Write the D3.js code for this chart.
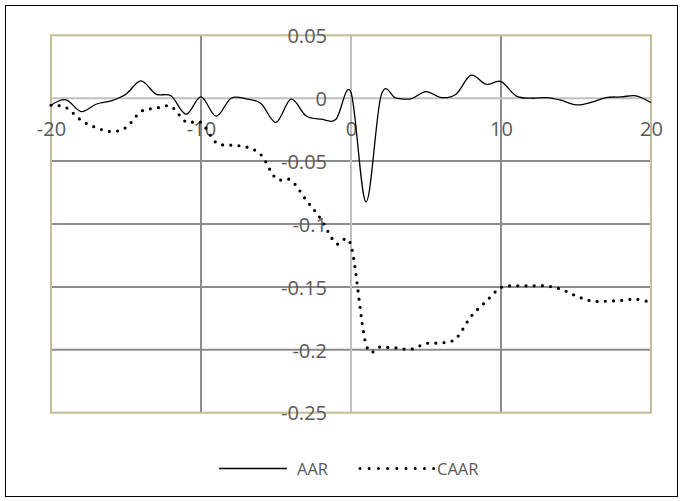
<!DOCTYPE html>
<html><head><meta charset="utf-8">
<script src="https://cdn.jsdelivr.net/npm/d3@7"></script>
<style>body{margin:0;background:#fff}svg{display:block}</style>
</head><body>
<svg id="c" width="682" height="501"></svg>
<script>
const days = [-20,-19,-18,-17,-16,-15,-14,-13,-12,-11,-10,-9,-8,-7,-6,-5,-4,-3,-2,-1,0,1,2,3,4,5,6,7,8,9,10,11,12,13,14,15,16,17,18,19,20];
const aar = [-0.0056,-0.0013,-0.0106,-0.0048,-0.0021,0.0032,0.0138,0.0032,0.0019,-0.0127,0.0010,
  -0.0143,0.0000,-0.0005,-0.0042,-0.0193,-0.0008,-0.0140,-0.0167,-0.0167,0.0045,
  -0.0824,0.0019,0.0000,-0.0005,0.0053,0.0005,0.0032,0.0183,0.0111,0.0132,
  0.0019,0.0000,0.0005,-0.0016,-0.0053,-0.0034,0.0005,0.0010,0.0019,-0.0034];
const caar = [-0.0056,-0.0074,-0.0175,-0.0233,-0.0265,-0.0233,-0.0106,-0.0080,-0.0066,-0.0188,-0.0193,
  -0.0352,-0.0374,-0.0387,-0.0450,-0.0638,-0.0652,-0.0808,-0.0962,-0.1155,-0.1170,
  -0.1955,-0.1977,-0.1985,-0.1995,-0.1950,-0.1945,-0.1910,-0.1735,-0.1616,-0.1505,
  -0.1492,-0.1492,-0.1492,-0.1518,-0.1571,-0.1611,-0.1614,-0.1608,-0.1598,-0.1624];
const xTicks = [-20,-10,0,10,20];
const xTickLabels = ["-20","-10","0","10","20"];
const yTicks = [0.05,0,-0.05,-0.1,-0.15,-0.2,-0.25];
const yTickLabels = ["0.05","0","-0.05","-0.1","-0.15","-0.2","-0.25"];
const seriesNames = ["AAR","CAAR"];

const svg = d3.select("#c");
const x = d3.scaleLinear().domain([-20,20]).range([51,651]);
const y = d3.scaleLinear().domain([-0.25,0.05]).range([412.7,35.3]);

// outer border
svg.append("rect").attr("x",5.5).attr("y",5.5).attr("width",672).attr("height",491)
  .attr("fill","none").attr("stroke","#000").attr("stroke-width",1);

// gridlines
const gridCol = "#8c8c8c", axisCol = "#c0c0c0";
svg.append("g").selectAll("line").data(yTicks.filter(v=>v!==0 && v!==0.05 && v!==-0.25)).join("line")
  .attr("x1",x(-20)).attr("x2",x(20)).attr("y1",d=>y(d)).attr("y2",d=>y(d))
  .attr("stroke",gridCol).attr("stroke-width",2);
svg.append("g").selectAll("line").data(xTicks.filter(v=>v!==0 && Math.abs(v)!==20)).join("line")
  .attr("y1",y(0.05)).attr("y2",y(-0.25)).attr("x1",d=>x(d)).attr("x2",d=>x(d))
  .attr("stroke",gridCol).attr("stroke-width",2);
// axis lines at zero
svg.append("line").attr("x1",x(-20)).attr("x2",x(20)).attr("y1",y(0)).attr("y2",y(0))
  .attr("stroke",axisCol).attr("stroke-width",2);
svg.append("line").attr("x1",x(0)).attr("x2",x(0)).attr("y1",y(0.05)).attr("y2",y(-0.25))
  .attr("stroke",axisCol).attr("stroke-width",2);
// plot border
svg.append("rect").attr("x",x(-20)).attr("y",y(0.05)).attr("width",x(20)-x(-20)).attr("height",y(-0.25)-y(0.05))
  .attr("fill","none").attr("stroke","#c4bd97").attr("stroke-width",2);

// axes labels
const font = "'Open Sans', sans-serif";
const yAxis = svg.append("g").attr("transform",`translate(${x(0)},0)`)
  .call(d3.axisLeft(y).tickValues(yTicks).tickSize(0).tickFormat((d,i)=>yTickLabels[i]));
yAxis.select(".domain").remove();
yAxis.selectAll("text").attr("x",-24).attr("dy","0.36em")
  .attr("font-family",font).attr("font-size",20).attr("fill","#595959");
const xAxis = svg.append("g").attr("transform",`translate(0,${y(0)})`)
  .call(d3.axisBottom(x).tickValues(xTicks).tickSize(0).tickFormat((d,i)=>xTickLabels[i]));
xAxis.select(".domain").remove();
xAxis.selectAll("text").attr("y",38).attr("dy",0)
  .attr("font-family",font).attr("font-size",20).attr("fill","#595959");

// series
const curve = d3.curveCatmullRom.alpha(0);
const lineA = d3.line().x((d,i)=>x(days[i])).y(d=>y(d)).curve(curve);
svg.append("path").attr("d",lineA(aar)).attr("fill","none").attr("stroke","#000").attr("stroke-width",1.3);
svg.append("path").attr("d",lineA(caar)).attr("fill","none").attr("stroke","#000").attr("stroke-width",3.2)
  .attr("stroke-dasharray","0 8.2").attr("stroke-linecap","round");

// legend
const lg = svg.append("g");
lg.append("line").attr("x1",219).attr("x2",287).attr("y1",468.5).attr("y2",468.5)
  .attr("stroke","#000").attr("stroke-width",1.3);
lg.append("text").attr("x",297).attr("y",475).text(seriesNames[0])
  .attr("font-family",font).attr("font-size",16.5).attr("fill","#595959");
lg.append("line").attr("x1",360).attr("x2",434).attr("y1",468.5).attr("y2",468.5)
  .attr("stroke","#000").attr("stroke-width",3).attr("stroke-dasharray","0 9.2").attr("stroke-linecap","round");
lg.append("text").attr("x",437).attr("y",475).text(seriesNames[1])
  .attr("font-family",font).attr("font-size",16.5).attr("fill","#595959");
</script>
</body></html>
